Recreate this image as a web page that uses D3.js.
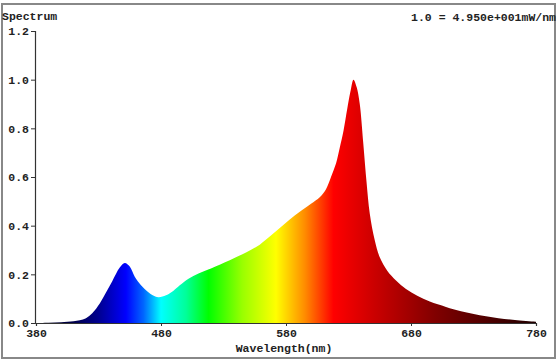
<!DOCTYPE html>
<html>
<head>
<meta charset="utf-8">
<script src="https://cdn.jsdelivr.net/npm/d3@7"></script>
<style>
  body { margin: 0; background: #fff; }
  text { font-family: "Liberation Mono", "DejaVu Sans Mono", monospace; font-weight: bold; fill: #222; }
</style>
</head>
<body>
<div id="chart"></div>
<script>
// spectrum samples
var wavelengths = [380, 390, 400, 410, 415, 420, 425, 431, 436, 441, 447, 451, 455, 459, 464, 468, 473, 478,
  484, 490, 495, 502, 510, 520, 535, 548, 559, 567, 575, 583, 591, 600, 607, 612, 616, 620, 623, 626, 629,
  631.5, 634, 636.5, 639, 641.8, 644.5, 647, 651, 655, 661, 668, 676, 685, 695, 708, 720, 735, 750, 765, 780];
var intensity = [0, 0.001, 0.003, 0.007, 0.011, 0.02, 0.04, 0.08, 0.125, 0.172, 0.228, 0.247, 0.232, 0.19, 0.155, 0.135, 0.115, 0.106,
  0.114, 0.133, 0.155, 0.182, 0.203, 0.224, 0.258, 0.29, 0.322, 0.355, 0.39, 0.425, 0.457, 0.49, 0.517, 0.55, 0.6, 0.655, 0.72, 0.79, 0.88,
  0.95, 1.0, 0.97, 0.9, 0.74, 0.575, 0.45, 0.34, 0.27, 0.215, 0.175, 0.14, 0.112, 0.088, 0.066, 0.048, 0.032, 0.02, 0.011, 0.005];

var xTicks = [380, 480, 580, 680, 780];
var yTicks = [0, 0.2, 0.4, 0.6, 0.8, 1.0, 1.2];

// colour of the fill along the wavelength axis
var colorStops = [
  [380, "#000018"], [410, "#00004a"], [430, "#000090"], [452, "#0000ff"], [466, "#0066ff"],
  [480, "#00ffff"], [500, "#00ff99"], [518, "#00ff00"], [545, "#99ff00"], [572, "#ffff00"],
  [595, "#ff8c00"], [618, "#ff0000"], [650, "#cc0000"], [700, "#800000"], [780, "#200000"]
];

var width = 559, height = 361;
var margin = { top: 31, left: 36, right: 23, bottom: 38 };
var fontSize = 11.5;

var svg = d3.select("#chart").append("svg")
  .attr("width", width)
  .attr("height", height);

var x = d3.scaleLinear().domain([380, 780]).range([margin.left, width - margin.right]);
var y = d3.scaleLinear().domain([0, 1.2]).range([height - margin.bottom, margin.top]);

// outer frame
svg.append("rect")
  .attr("x", 2).attr("y", 4)
  .attr("width", 553).attr("height", 354)
  .attr("fill", "none")
  .attr("stroke", "#888")
  .attr("stroke-width", 2);

//gradient
var grad = svg.append("defs").append("linearGradient")
  .attr("id", "spec")
  .attr("gradientUnits", "userSpaceOnUse")
  .attr("x1", x(380)).attr("x2", x(780))
  .attr("y1", 0).attr("y2", 0);

grad.selectAll("stop")
  .data(colorStops)
  .enter().append("stop")
  .attr("offset", d => (d[0] - 380) / 400)
  .attr("stop-color", d => d[1]);

var points = wavelengths.map((w, i) => [w, intensity[i]]);

var area = d3.area()
  .x(d => x(d[0]))
  .y0(y(0))
  .y1(d => y(Math.max(0, d[1])))
  .curve(d3.curveCatmullRom.alpha(0.5));

svg.append("path")
  .datum(points)
  .attr("d", area)
  .attr("fill", "url(#spec)");

// axes
var xAxis = d3.axisBottom(x).tickValues(xTicks).tickSize(3).tickPadding(3).tickFormat(d3.format("d"));
var yAxis = d3.axisLeft(y).tickValues(yTicks).tickSize(4).tickPadding(2).tickFormat(d3.format(".1f"));

var gx = svg.append("g")
  .attr("transform", `translate(0,${y(0)})`)
  .call(xAxis);

var gy = svg.append("g")
  .attr("transform", `translate(${margin.left - 1},0)`)
  .call(yAxis);

[gx, gy].forEach(g => {
  g.select(".domain").attr("stroke", "#333").attr("stroke-width", 1.2);
  g.selectAll(".tick line").attr("stroke", "#333");
  g.selectAll("text")
    .attr("font-family", "Liberation Mono, DejaVu Sans Mono, monospace")
    .attr("font-weight", "bold")
    .attr("font-size", fontSize)
    .attr("fill", "#222");
});

// labels
svg.append("text")
  .attr("x", 2).attr("y", 20)
  .attr("font-size", fontSize)
  .text("Spectrum");

svg.append("text")
  .attr("x", 556).attr("y", 21)
  .attr("text-anchor", "end")
  .attr("font-size", fontSize)
  .text("1.0 = 4.950e+001mW/nm");

svg.append("text")
  .attr("x", 284).attr("y", 352)
  .attr("text-anchor", "middle")
  .attr("font-size", fontSize)
  .text("Wavelength(nm)");
</script>
</body>
</html>
